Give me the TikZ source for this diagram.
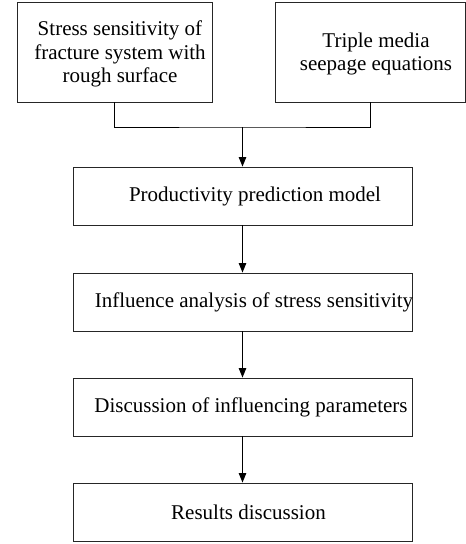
\documentclass[tikz,border=0pt]{standalone}
\usepackage{fontspec}
\setmainfont{Liberation Serif}
\usetikzlibrary{arrows.meta}
\begin{document}
\begin{tikzpicture}[x=1pt,y=1pt,
  box/.style={draw=black!85,line width=0.9pt,rectangle,inner sep=0pt},
  txt/.style={font=\fontsize{21}{23.5}\selectfont,align=center,inner sep=0pt},
  conn/.style={draw=black,line width=1pt},
  arr/.style={conn,-{Triangle[width=7.5pt,length=9.5pt]}}]
\useasboundingbox (0,0) rectangle (466,-544);
\node[box,minimum width=195pt,minimum height=100pt] (b1) at (114.5,-52) {};
\node[box,minimum width=190pt,minimum height=100pt] (b2) at (370,-52) {};
\node[txt] (t1) at (120,-54) {Stress sensitivity of\\fracture system with\\rough surface};
\node[txt] (t2) at (376,-54) {Triple media\\seepage equations};
\coordinate (j) at (242.5,-127);
\draw[conn] (b1.south) |- (j) -| (b2.south);
\node[box,minimum width=339pt,minimum height=58pt] (b3) at (242.5,-196) {};
\node[box,minimum width=339pt,minimum height=58pt] (b4) at (242.5,-302) {};
\node[box,minimum width=339pt,minimum height=58pt] (b5) at (242.5,-407) {};
\node[box,minimum width=339pt,minimum height=58pt] (b6) at (242.5,-512) {};
\node[txt] (t3) at (255,-196) {Productivity prediction model};
\node[txt] (t4) at (254,-302) {Influence analysis of stress sensitivity};
\node[txt] (t5) at (251,-407) {Discussion of influencing parameters};
\node[txt] (t6) at (248.5,-512) {Results discussion};
\draw[arr] (j) -- (b3.north);
\draw[arr] (b3.south) -- (b4.north);
\draw[arr] (b4.south) -- (b5.north);
\draw[arr] (b5.south) -- (b6.north);
\end{tikzpicture}
\end{document}
